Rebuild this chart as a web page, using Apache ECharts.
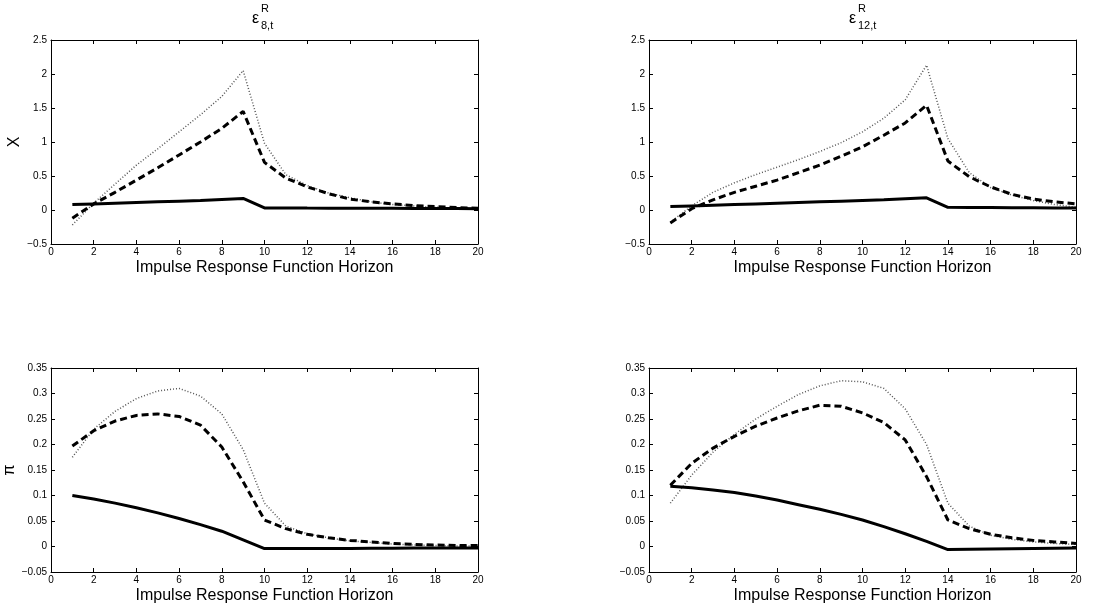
<!DOCTYPE html>
<html>
<head>
<meta charset="utf-8">
<script src="https://cdn.jsdelivr.net/npm/echarts@6/dist/echarts.min.js"></script>
<style>
  html, body { margin: 0; padding: 0; background: #fff; }
  #chart { width: 1120px; height: 609px; }
</style>
</head>
<body>
<div id="chart"></div>
<script>
// horizon 1..20
var horizon = [1, 2, 3, 4, 5, 6, 7, 8, 9, 10, 11, 12, 13, 14, 15, 16, 17, 18, 19, 20];

// output gap X, shock at 8
var x8Solid  = [0.08, 0.09, 0.10, 0.11, 0.12, 0.13, 0.14, 0.155, 0.17, 0.03, 0.03, 0.028, 0.027, 0.026, 0.025, 0.024, 0.023, 0.022, 0.021, 0.02];
var x8Dashed = [-0.12, 0.09, 0.26, 0.44, 0.62, 0.81, 1.0, 1.2, 1.45, 0.70, 0.47, 0.34, 0.24, 0.16, 0.12, 0.09, 0.065, 0.05, 0.035, 0.025];
var x8Dotted = [-0.22, 0.10, 0.38, 0.66, 0.90, 1.15, 1.40, 1.67, 2.05, 0.98, 0.52, 0.36, 0.25, 0.18, 0.12, 0.08, 0.06, 0.04, 0.03, 0.02];

// output gap X, shock at 12
var x12Solid  = [0.05, 0.06, 0.07, 0.08, 0.09, 0.10, 0.11, 0.12, 0.13, 0.14, 0.15, 0.165, 0.18, 0.04, 0.038, 0.036, 0.034, 0.032, 0.03, 0.03];
var x12Dashed = [-0.19, 0.02, 0.15, 0.26, 0.35, 0.44, 0.55, 0.66, 0.79, 0.93, 1.1, 1.28, 1.54, 0.72, 0.49, 0.34, 0.23, 0.16, 0.12, 0.09];
var x12Dotted = [-0.18, 0.06, 0.26, 0.40, 0.52, 0.63, 0.74, 0.86, 0.99, 1.15, 1.35, 1.62, 2.13, 1.05, 0.55, 0.33, 0.22, 0.14, 0.08, 0.04];

// inflation pi, shock at 8
var pi8Solid  = [0.10, 0.093, 0.085, 0.076, 0.066, 0.055, 0.043, 0.03, 0.013, -0.004, -0.004, -0.004, -0.004, -0.004, -0.0035, -0.0035, -0.003, -0.003, -0.003, -0.003];
var pi8Dashed = [0.197, 0.227, 0.246, 0.257, 0.26, 0.255, 0.238, 0.195, 0.127, 0.052, 0.035, 0.024, 0.017, 0.012, 0.009, 0.006, 0.004, 0.003, 0.002, 0.002];
var pi8Dotted = [0.175, 0.23, 0.265, 0.29, 0.305, 0.31, 0.295, 0.26, 0.19, 0.085, 0.04, 0.025, 0.017, 0.011, 0.008, 0.005, 0.003, 0.002, 0.001, 0.001];

// inflation pi, shock at 12
var pi12Solid  = [0.118, 0.115, 0.111, 0.106, 0.099, 0.091, 0.082, 0.073, 0.063, 0.052, 0.039, 0.025, 0.01, -0.006, -0.0055, -0.005, -0.0045, -0.004, -0.0035, -0.003];
var pi12Dashed = [0.12, 0.163, 0.193, 0.216, 0.236, 0.252, 0.266, 0.277, 0.275, 0.262, 0.243, 0.209, 0.137, 0.052, 0.035, 0.024, 0.017, 0.012, 0.009, 0.006];
var pi12Dotted = [0.085, 0.14, 0.185, 0.22, 0.25, 0.275, 0.298, 0.315, 0.325, 0.323, 0.31, 0.27, 0.2, 0.085, 0.04, 0.022, 0.014, 0.009, 0.006, 0.004];

// axis ranges [min, max, interval]
var horizonRange = [0, 20, 2];
var xRange = [-0.5, 2.5, 0.5];
var piRange = [-0.05, 0.35, 0.05];

var xName = 'Impulse Response Function Horizon';
var font = 'Liberation Sans, Arial, Helvetica, sans-serif';

function pairs(vals) {
    return horizon.map(function (h, i) { return [h, vals[i]]; });
}

function fmt(v) {
    var s = String(Math.round(v * 10000) / 10000);
    return s.replace('-', '\u2212');
}

var grids = [
    { left: 51, width: 427, top: 40, height: 204 },
    { left: 649, width: 427, top: 40, height: 204 },
    { left: 51, width: 427, top: 368, height: 204 },
    { left: 649, width: 427, top: 368, height: 204 }
];
var yRanges = [xRange, xRange, piRange, piRange];
var yNames = ['X', '', '\u03c0', ''];
var panels = [
    [x8Solid, x8Dashed, x8Dotted],
    [x12Solid, x12Dashed, x12Dotted],
    [pi8Solid, pi8Dashed, pi8Dotted],
    [pi12Solid, pi12Dashed, pi12Dotted]
];

var xAxes = [], yAxes = [], series = [];
grids.forEach(function (g, i) {
    var yr = yRanges[i];
    // bottom / left axes with labels
    xAxes.push({
        type: 'value', gridIndex: i, position: 'bottom',
        min: horizonRange[0], max: horizonRange[1], interval: horizonRange[2],
        name: xName, nameLocation: 'middle', nameGap: 16,
        nameTextStyle: { fontSize: 16, color: '#000', fontFamily: font },
        axisLine: { show: true, onZero: false, lineStyle: { color: '#000', width: 1 } },
        axisTick: { inside: true, length: 4, lineStyle: { color: '#000' } },
        axisLabel: { fontSize: 10, color: '#000', fontFamily: font, margin: 3 },
        splitLine: { show: false }
    });
    // top axis for the box
    xAxes.push({
        type: 'value', gridIndex: i, position: 'top',
        min: horizonRange[0], max: horizonRange[1], interval: horizonRange[2],
        axisLine: { show: true, onZero: false, lineStyle: { color: '#000', width: 1 } },
        axisTick: { inside: true, length: 4, lineStyle: { color: '#000' } },
        axisLabel: { show: false },
        splitLine: { show: false }
    });
    yAxes.push({
        type: 'value', gridIndex: i, position: 'left',
        min: yr[0], max: yr[1], interval: yr[2],
        name: yNames[i], nameLocation: 'middle', nameRotate: 90, nameGap: 28,
        nameTextStyle: { fontSize: 16, color: '#000', fontFamily: font },
        axisLine: { show: true, onZero: false, lineStyle: { color: '#000', width: 1 } },
        axisTick: { inside: true, length: 4, lineStyle: { color: '#000' } },
        axisLabel: { fontSize: 10, color: '#000', fontFamily: font, margin: 4, formatter: fmt },
        splitLine: { show: false }
    });
    yAxes.push({
        type: 'value', gridIndex: i, position: 'right',
        min: yr[0], max: yr[1], interval: yr[2],
        axisLine: { show: true, onZero: false, lineStyle: { color: '#000', width: 1 } },
        axisTick: { inside: true, length: 4, lineStyle: { color: '#000' } },
        axisLabel: { show: false },
        splitLine: { show: false }
    });

    var p = panels[i];
    var base = { type: 'line', xAxisIndex: i * 2, yAxisIndex: i * 2, symbol: 'none', silent: true, animation: false };
    series.push(Object.assign({}, base, {
        data: pairs(p[2]), lineStyle: { color: '#555', width: 1.5, type: [1, 2] }
    }));
    series.push(Object.assign({}, base, {
        data: pairs(p[1]), lineStyle: { color: '#000', width: 3, type: [7, 4] }
    }));
    series.push(Object.assign({}, base, {
        data: pairs(p[0]), lineStyle: { color: '#000', width: 3 }
    }));
});

// panel titles: epsilon with superscript R and subscript
function titleGraphic(left, sub) {
    return {
        type: 'group', left: left, top: 3,
        children: [
            { type: 'text', x: 0, y: 8, style: { text: '\u03b5', fontSize: 16, fill: '#000', fontFamily: font } },
            { type: 'text', x: 9, y: 0, style: { text: 'R', fontSize: 11, fill: '#000', fontFamily: font } },
            { type: 'text', x: 9, y: 17, style: { text: sub, fontSize: 11, fill: '#000', fontFamily: font } }
        ]
    };
}

var option = {
    animation: false,
    grid: grids,
    xAxis: xAxes,
    yAxis: yAxes,
    series: series,
    graphic: [titleGraphic(252, '8,t'), titleGraphic(849, '12,t')]
};

var chart = echarts.init(document.getElementById('chart'));
chart.setOption(option);
</script>
</body>
</html>
